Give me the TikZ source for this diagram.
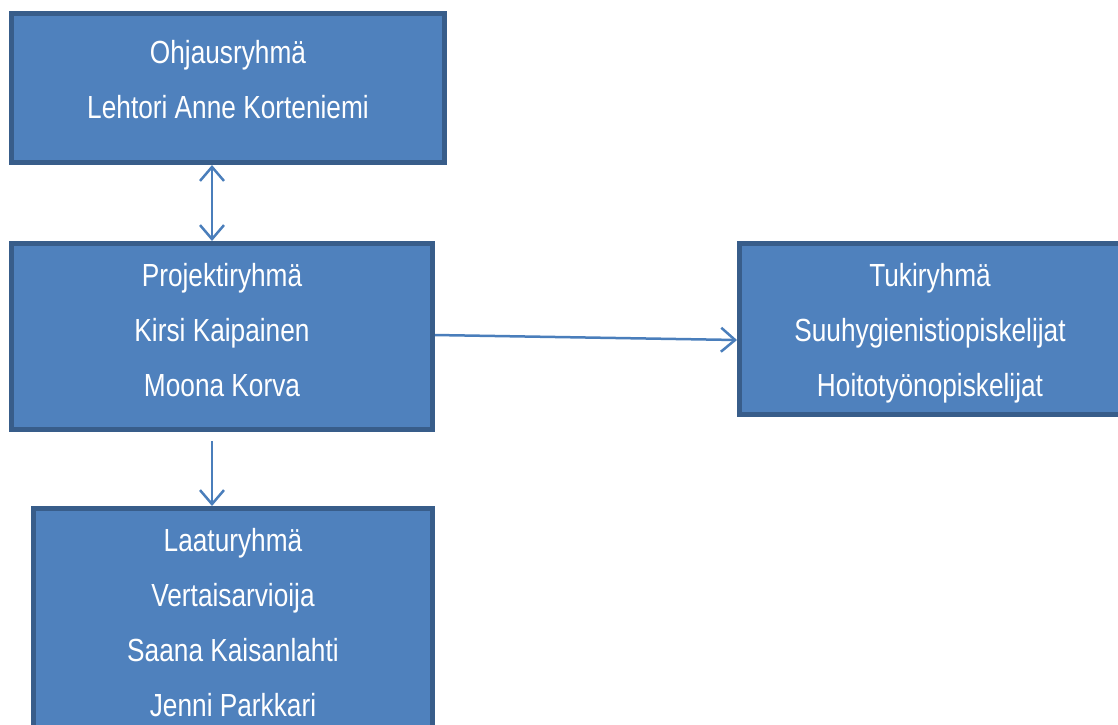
\documentclass[tikz,border=0pt]{standalone}
\usepackage{fontspec}
\setmainfont{Liberation Sans}[FakeStretch=0.82]
\usetikzlibrary{arrows.meta,positioning}
\definecolor{boxfill}{HTML}{4F81BD}
\definecolor{boxline}{HTML}{385D8A}
\definecolor{linkblue}{HTML}{4A7EBB}
\tikzstyle{group} = [draw=boxline,line width=5pt,fill=boxfill,rectangle,inner sep=0,outer sep=0]
\tikzstyle{names} = [text=white,align=center,inner sep=0,anchor=north,font=\fontsize{32}{55}\selectfont]
\tikzstyle{link} = [draw=linkblue,line width=2.5pt,>={Straight Barb[length=14pt,width=24pt]}]
\def \bw {2.5pt}

\begin{document}
\begin{tikzpicture}[x=1pt,y=-1pt]
      \useasboundingbox (0,0) rectangle (1118,724);
      \node[group,minimum width=433,minimum height=149] (ohj) at (228,88) {};
      \node[group,minimum width=421,minimum height=186] (proj) at (222,336.5) {};
      \node[group,minimum width=381,minimum height=171] (tuki) at (930,329) {};
      \node[group,minimum width=399,minimum height=252] (laatu) at (233,634.5) {};
      \node[names] (ohjt) at ([yshift=-27pt]ohj.north) {Ohjausryhmä\\Lehtori Anne Korteniemi};
      \node[names] (projt) at ([yshift=-20pt]proj.north) {Projektiryhmä\\Kirsi Kaipainen\\Moona Korva};
      \node[names] (tukit) at ([yshift=-19.5pt]tuki.north) {Tukiryhmä\\Suuhygienistiopiskelijat\\Hoitotyönopiskelijat};
      \node[names] (laatut) at ([yshift=-19.5pt]laatu.north) {Laaturyhmä\\Vertaisarvioija\\Saana Kaisanlahti\\Jenni Parkkari};
      \coordinate (ax) at (212,0);
      \coordinate (ay) at (212,441);
      \draw[link,<->] ([yshift=-\bw]ohj.south -| ax) -- ([yshift=\bw]proj.north -| ax);
      \draw[link,->] ([xshift=\bw,yshift=1.5pt]proj.east) -- ([xshift=-\bw,yshift=-11pt]tuki.west);
      \draw[link,->] (ay) -- ([yshift=\bw]laatu.north -| ay);
    \end{tikzpicture}
\end{document}
